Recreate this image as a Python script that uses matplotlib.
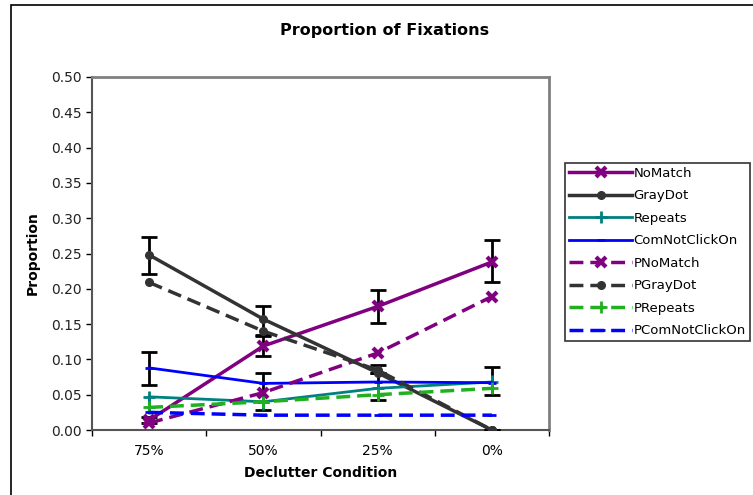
import numpy as np
import matplotlib
matplotlib.use("Agg")
import matplotlib.pyplot as plt
from matplotlib.patches import Rectangle

conditions = ["75%", "50%", "25%", "0%"]

nomatch = [0.014, 0.119, 0.175, 0.238]
graydot = [0.248, 0.157, 0.081, 0.000]
repeats = [0.047, 0.040, 0.059, 0.068]
comnot = [0.088, 0.066, 0.068, 0.067]
pnomatch = [0.010, 0.053, 0.109, 0.189]
pgraydot = [0.209, 0.140, 0.085, 0.000]
prepeats = [0.032, 0.040, 0.050, 0.059]
pcomnot = [0.025, 0.021, 0.021, 0.021]

# error bars (lower, upper)
nomatch_err = [[0.004, 0.014, 0.023, 0.029], [0.004, 0.014, 0.023, 0.031]]
graydot_err = [[0.027, 0.022, 0.000, 0.000], [0.025, 0.018, 0.000, 0.000]]
comnot_err = [[0.024, 0.038, 0.025, 0.018], [0.023, 0.015, 0.024, 0.022]]
repeats_err = [[0.024, 0.012, 0.008, 0.008], [0.000, 0.000, 0.000, 0.010]]

purple = "#800080"
dark = "#333333"
teal = "#008080"
blue = "#0000ff"
green = "#20b020"

plt.rcParams['font.family'] = ['DejaVu Sans']

fig = plt.figure(figsize=(7.53, 4.95), dpi=100)
fig.patches.append(Rectangle((11 / 753, -0.1), 1.2, 1 - 5 / 495 + 0.1, transform=fig.transFigure,
                             fill=False, edgecolor="black", linewidth=1.2))

ax = fig.add_axes([92 / 753, 1 - 430 / 495, (549 - 92) / 753, (430 - 77) / 495])
x = np.arange(len(conditions)) + 0.5

ekw = dict(ecolor="black", elinewidth=2, capsize=6, capthick=2, fmt="none", zorder=4)
ax.errorbar(x, nomatch, yerr=nomatch_err, **ekw)
ax.errorbar(x, graydot, yerr=graydot_err, **ekw)
ax.errorbar(x, comnot, yerr=comnot_err, **ekw)
ax.errorbar(x, repeats, yerr=repeats_err, ecolor=teal, elinewidth=2, capsize=0, fmt="none", zorder=4)

dash = (0, (4, 2))
ax.plot(x, nomatch, color=purple, lw=2.5, marker="x", ms=7.5, mew=3, label="NoMatch", zorder=5)
ax.plot(x, graydot, color=dark, lw=2.5, marker="o", ms=5.5, label="GrayDot", zorder=5)
ax.plot(x, repeats, color=teal, lw=2, marker="+", ms=8, mew=2, label="Repeats", zorder=5)
ax.plot(x, comnot, color=blue, lw=2, marker="_", ms=6, mew=2, label="ComNotClickOn", zorder=5)
ax.plot(x, pnomatch, color=purple, lw=2.5, ls=dash, marker="x", ms=7.5, mew=3, label="PNoMatch", zorder=5)
ax.plot(x, pgraydot, color=dark, lw=2.5, ls=dash, marker="o", ms=5.5, label="PGrayDot", zorder=5)
ax.plot(x, prepeats, color=green, lw=2.5, ls=dash, marker="+", ms=8, mew=2, label="PRepeats", zorder=5)
ax.plot(x, pcomnot, color=blue, lw=2.5, ls=dash, marker="_", ms=6, mew=2, label="PComNotClickOn", zorder=5)

ax.set_xlim(0, 4)
ax.set_ylim(0, 0.5)
ax.set_yticks(np.arange(0, 0.51, 0.05))
ax.set_yticklabels([f"{v:.2f}" for v in np.arange(0, 0.51, 0.05)])
ax.set_xticks(np.arange(0, 5))
ax.set_xticklabels([])
ax.set_xticks(x, minor=True)
ax.set_xticklabels(conditions, minor=True)
ax.tick_params(axis="x", which="minor", length=0, pad=10)
ax.tick_params(axis="x", which="major", length=4, direction="out", width=1)
ax.tick_params(axis="y", length=4, width=1, direction="out")
ax.tick_params(labelsize=10, labelcolor="#222222")
for s in ["top", "right"]:
    ax.spines[s].set_color("#808080")
    ax.spines[s].set_linewidth(2)
for s in ["left", "bottom"]:
    ax.spines[s].set_color("#555555")
    ax.spines[s].set_linewidth(1.5)

ax.set_xlabel("Declutter Condition", fontsize=10, fontweight="bold", labelpad=6)
ax.set_ylabel("Proportion", fontsize=10, fontweight="bold", labelpad=8)
fig.text(385 / 753, 1 - 30 / 495, "Proportion of Fixations", ha="center", va="center",
         fontsize=11.5, fontweight="bold")

leg = ax.legend(loc="upper left", bbox_to_anchor=(565 / 753, 1 - 163 / 495), bbox_transform=fig.transFigure,
                fontsize=9.5, frameon=True, fancybox=False, edgecolor="black", borderpad=0.3,
                handlelength=4.8, handletextpad=0.1, labelspacing=0.72, borderaxespad=0)
leg.get_frame().set_linewidth(1.2)

fig.savefig("out.png", dpi=100)
